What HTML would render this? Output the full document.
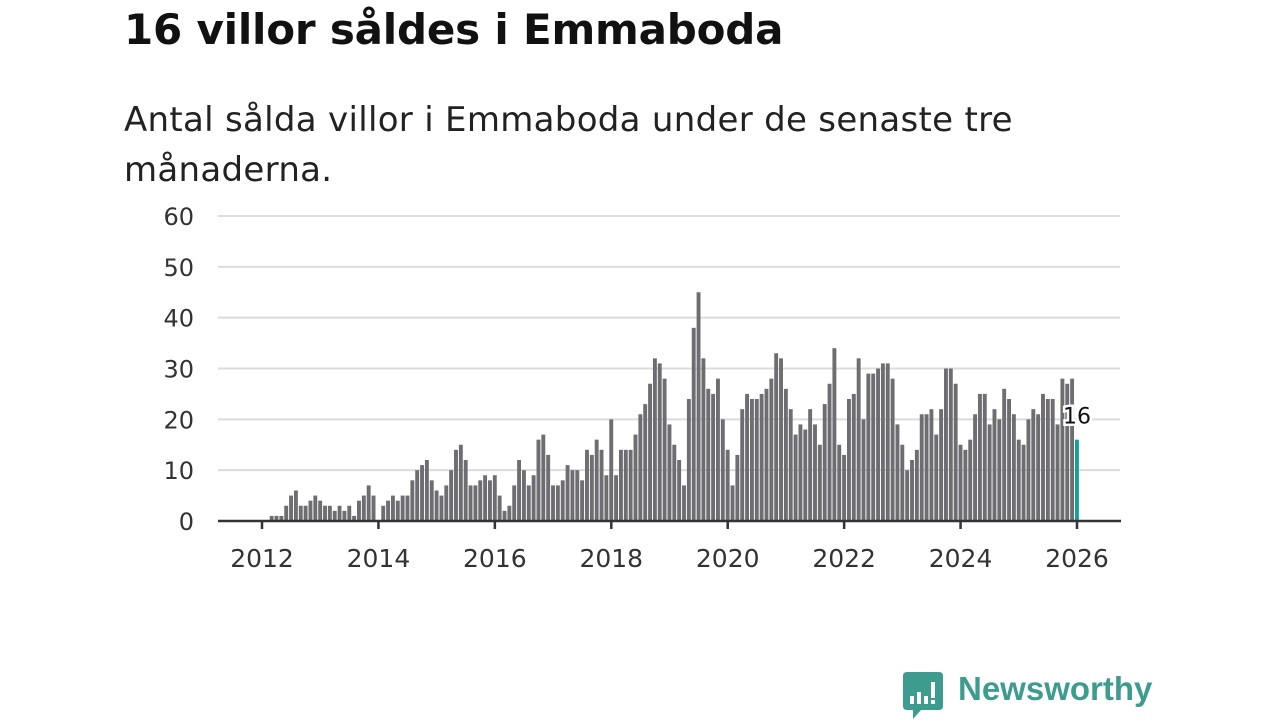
<!DOCTYPE html>
<html><head><meta charset="utf-8">
<style>
body{margin:0;background:#fff;width:1280px;height:720px;overflow:hidden;font-family:"DejaVu Sans","Liberation Sans",sans-serif;}
#title{position:absolute;left:124px;top:5px;font-size:42px;font-weight:bold;color:#111;margin:0;letter-spacing:-0.2px;}
#sub{position:absolute;left:124px;top:95px;font-size:34px;line-height:50px;color:#222;width:1000px;margin:0;letter-spacing:0.3px;}
svg{position:absolute;left:0;top:0;}
</style></head><body>
<h1 id="title">16 villor såldes i Emmaboda</h1>
<p id="sub">Antal sålda villor i Emmaboda under de senaste tre<br>månaderna.</p>
<svg id="chart" width="1280" height="720"></svg>
<script>
const startYear = 2012;
const values = [0,0,1,1,1,3,5,6,3,3,4,5,4,3,3,2,3,2,3,1,4,5,7,5,0,3,4,5,4,5,5,8,10,11,12,8,6,5,7,10,14,15,12,7,7,8,9,8,9,
5,2,3,7,12,10,7,9,16,17,13,7,7,8,11,10,10,8,14,13,16,14,9,20,9,14,14,14,17,21,23,27,32,31,28,19,15,12,7,24,38,45,32,26,25,28,20,14,7,13,
22,25,24,24,25,26,28,33,32,26,22,17,19,18,22,19,15,23,27,34,15,13,24,25,32,20,29,29,30,31,31,28,19,15,10,12,14,21,21,22,17,22,30,30,27,
15,14,16,21,25,25,19,22,20,26,24,21,16,15,20,22,21,25,24,24,19,28,27,28,16];
const yTicks = [0,10,20,30,40,50,60];
const xTicks = [2012,2014,2016,2018,2020,2022,2024,2026];
const lastLabel = "16";

const svg = document.getElementById('chart');
const NS = 'http://www.w3.org/2000/svg';
const FF = 'DejaVu Sans, Liberation Sans, sans-serif';
const x = t => 262 + (t - 2012) * (1077 - 262) / 14;
const y = v => 521 - v * (521 - 216) / 60;
function mk(tag, attrs){const e=document.createElementNS(NS,tag);for(const k in attrs)e.setAttribute(k,attrs[k]);svg.appendChild(e);return e;}

yTicks.forEach(v=>{
  if(v>0){const g=mk('line',{x1:218,x2:1120,y1:y(v),y2:y(v),stroke:'#dcdcdc','stroke-width':2});
  
  }
  const t=mk('text',{x:194,y:y(v)+9,'text-anchor':'end','font-size':24,fill:'#333','font-family':FF});
  t.textContent=v;
  
  
});
values.forEach((v,i)=>{
  const t = startYear + i/12;
  const last = i===values.length-1;
  const r=mk('rect',{x:x(t)-2,y:y(v),width:3.9,height:y(0)-y(v),fill:last?'#13a19a':'#6e6d72'});
  
  
});
const ax=mk('line',{x1:218,x2:1121,y1:521,y2:521,stroke:'#333','stroke-width':2.5});


xTicks.forEach(yr=>{
  const l=mk('line',{x1:x(yr),x2:x(yr),y1:521,y2:529,stroke:'#333','stroke-width':2.5});
  
  
  const t=mk('text',{x:x(yr),y:567,'text-anchor':'middle','font-size':25,fill:'#333','font-family':FF});
  t.textContent=yr;
  
  
});
const lv = values[values.length-1];
const lt = x(startYear + (values.length-1)/12);
const lab=mk('text',{x:lt,y:y(lv)-16,'text-anchor':'middle','font-size':22,fill:'#111',stroke:'#fff','stroke-width':5,'paint-order':'stroke','font-family':FF});
lab.textContent=lastLabel;


</script>
<div style="position:absolute;left:903px;top:672px;">
  <svg width="40" height="48" style="position:absolute;left:0;top:0;">
    <path d="M4 0 H36 Q40 0 40 4 V34 Q40 38 36 38 H18 L10 47 V38 H4 Q0 38 0 34 V4 Q0 0 4 0Z" fill="#3e9c8f"/>
    <rect x="7" y="24" width="4" height="8" fill="#fff"/><rect x="14" y="20" width="4" height="12" fill="#fff"/><rect x="21" y="24" width="4" height="8" fill="#fff"/><rect x="28" y="10" width="4" height="16" fill="#fff"/><rect x="28" y="28" width="4" height="4" fill="#fff"/>
  </svg>
  <span style="position:absolute;left:55px;top:-2px;font-size:33px;font-weight:bold;color:#3e9c8f;white-space:nowrap;font-family:'Liberation Sans',sans-serif;">Newsworthy</span>
</div>
</body></html>
